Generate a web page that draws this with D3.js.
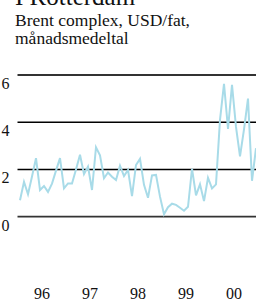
<!DOCTYPE html>
<html><head><meta charset="utf-8">
<script src="https://cdn.jsdelivr.net/npm/d3@7"></script>
<style>html,body{margin:0;padding:0;background:#fff;overflow:hidden}</style>
</head><body>
<script>
const titleText = "I Rotterdam";
const subtitleLines = ["Brent complex, USD/fat,", "månadsmedeltal"];
const yearLabels = ["96", "97", "98", "99", "00"];
const yTicks = [0, 2, 4, 6];
// monthly values Jan 1996 – Dec 2000
const values = [
  0.70, 1.48, 0.95, 1.70, 2.48, 1.13, 1.30, 1.05, 1.40, 1.95, 2.48, 1.20,
  1.41, 1.41, 2.00, 2.62, 1.80, 2.12, 1.13, 2.94, 2.60, 1.63, 1.87, 1.69,
  1.55, 2.16, 1.72, 1.98, 0.87, 2.19, 2.45, 1.35, 0.80, 1.75, 1.77, 0.85,
  0.10, 0.40, 0.55, 0.50, 0.38, 0.25, 0.42, 2.03, 0.90, 1.37, 0.66, 1.65,
  1.20, 1.37, 4.10, 5.63, 3.72, 5.58, 3.80, 2.55, 3.70, 5.00, 1.52, 2.90
];

const W = 256, H = 302;
const svg = d3.select("body").append("svg").attr("width", W).attr("height", H)
  .style("font-family", "'Liberation Serif', 'Times New Roman', serif");

const x = d3.scaleLinear().domain([0, values.length - 1]).range([20, 20 + 4 * (values.length - 1)]);
const y = d3.scaleLinear().domain([0, 6]).range([216.7, 75]);

// title (cut at top)
svg.append("text").attr("x", 15).attr("y", 5).attr("font-size", 25).attr("fill", "#111").text(titleText);
svg.selectAll("text.sub").data(subtitleLines).enter().append("text")
  .attr("class", "sub").attr("x", 15).attr("y", (d, i) => 25.5 + i * 18.8)
  .attr("font-size", 17.5).attr("fill", "#111").text(d => d);

// gridlines
svg.selectAll("line.grid").data(yTicks).enter().append("line")
  .attr("x1", 17.5).attr("x2", W + 2)
  .attr("y1", d => y(d)).attr("y2", d => y(d))
  .attr("stroke", d => (d === 0 || d === 6) ? "#333" : "#000")
  .attr("stroke-width", d => (d === 0 || d === 6) ? 1.8 : 1.4);

// y labels
svg.selectAll("text.ylab").data(yTicks).enter().append("text")
  .attr("class", "ylab").attr("x", 1.5).attr("y", d => y(d) + 14)
  .attr("font-size", 16).attr("fill", "#111").text(d => d);

// x labels: centered in each year
svg.selectAll("text.xlab").data(yearLabels).enter().append("text")
  .attr("class", "xlab").attr("x", (d, i) => x(i * 12 + 5.5)).attr("y", 299)
  .attr("text-anchor", "middle").attr("font-size", 16).attr("fill", "#111").text(d => d);

// line
const line = d3.line().x((d, i) => x(i)).y(d => y(d));
svg.append("path").datum(values).attr("d", line)
  .attr("fill", "none").attr("stroke", "#a8dbe8").attr("stroke-width", 2)
  .attr("stroke-linejoin", "miter");
</script>
</body></html>
